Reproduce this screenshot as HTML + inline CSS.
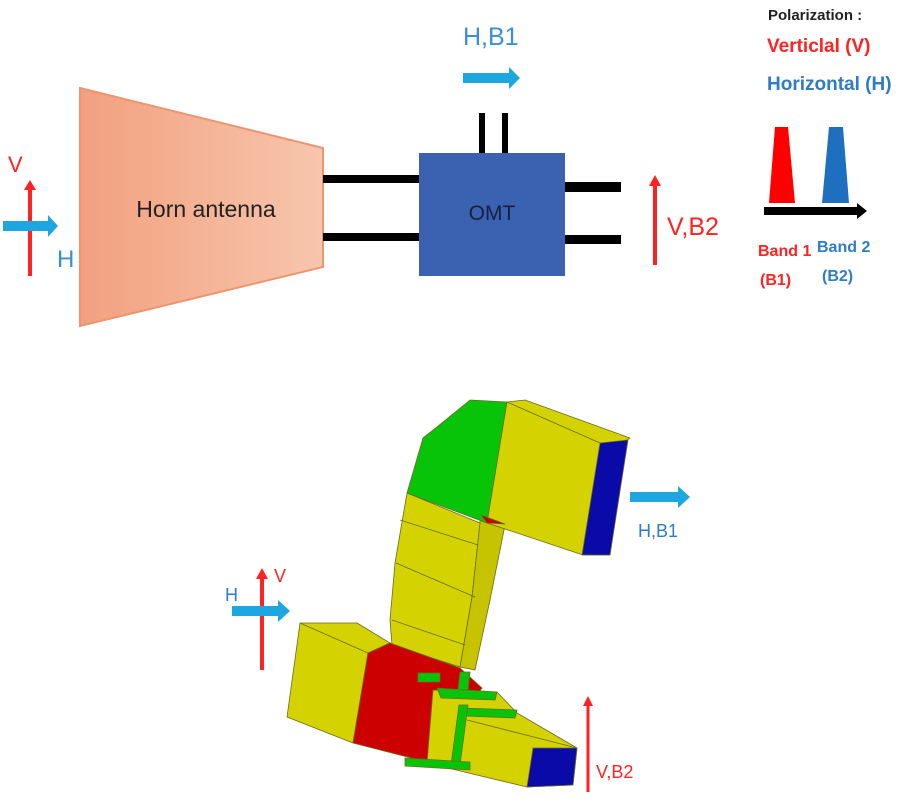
<!DOCTYPE html>
<html><head><meta charset="utf-8"><style>html,body{margin:0;padding:0;background:#fff;width:900px;height:800px;overflow:hidden}</style></head>
<body>
<svg width="900" height="800" viewBox="0 0 900 800" xmlns="http://www.w3.org/2000/svg" font-family="Liberation Sans, sans-serif">
<defs>
<linearGradient id="hg" x1="0" x2="1" y1="0" y2="0"><stop offset="0" stop-color="#f2a07f"/><stop offset="1" stop-color="#f7c6ad"/></linearGradient>
<marker id="ar" markerWidth="4" markerHeight="4" refX="2" refY="2" orient="auto" markerUnits="strokeWidth"><path d="M0,0 L4,2 L0,4 z" fill="#f00"/></marker>
</defs>
<!-- left polarization -->
<line x1="30" y1="276" x2="30" y2="188" stroke="#f22" stroke-width="4"/>
<path d="M24,190 L30,180 L36,190 z" fill="#f22"/>
<rect x="3" y="221" width="47" height="10" fill="#1ea6e0"/>
<path d="M48,215 L58,226 L48,237 z" fill="#1ea6e0"/>
<text x="8" y="172" font-size="22" fill="#f22">V</text>
<text x="57" y="267" font-size="24" fill="#3b8fd6">H</text>
<!-- horn -->
<polygon points="80,88 323,148 323,267 80,326" fill="url(#hg)" stroke="#eb9670" stroke-width="2"/>
<text x="206" y="217" font-size="23" text-anchor="middle" fill="#222">Horn antenna</text>
<rect x="323" y="175" width="97" height="8" fill="#000"/>
<rect x="323" y="233" width="97" height="8" fill="#000"/>
<!-- OMT -->
<rect x="419" y="153" width="146" height="123" fill="#3a62b0"/>
<text x="492" y="220" font-size="21" text-anchor="middle" fill="#142040">OMT</text>
<rect x="479" y="113" width="6" height="40" fill="#000"/>
<rect x="502" y="113" width="6" height="40" fill="#000"/>
<rect x="565" y="182" width="56" height="10" fill="#000"/>
<rect x="565" y="235" width="56" height="9" fill="#000"/>
<text x="463" y="45" font-size="25" fill="#3b8fd6">H,B1</text>
<rect x="463" y="73" width="48" height="10" fill="#1ea6e0"/>
<path d="M509,67 L520,78 L509,89 z" fill="#1ea6e0"/>
<line x1="655" y1="265" x2="655" y2="185" stroke="#f22" stroke-width="4"/>
<path d="M649,186 L655,175 L661,186 z" fill="#f22"/>
<text x="667" y="235" font-size="25" fill="#f22">V,B2</text>
<!-- legend -->
<text x="768" y="20" font-size="15" font-weight="bold" fill="#222">Polarization :</text>
<text x="767" y="52" font-size="19" font-weight="bold" fill="#f22">Verticlal (V)</text>
<text x="767" y="90" font-size="19" font-weight="bold" fill="#2e7cc8">Horizontal (H)</text>
<polygon points="775,127 788,127 795,203 769,203" fill="#f00"/>
<polygon points="829,127 843,127 849,203 822,203" fill="#1f6fc0"/>
<rect x="764" y="207" width="96" height="8" fill="#000"/>
<path d="M857,203 L867,211 L857,219 z" fill="#000"/>
<text x="758" y="256" font-size="16" font-weight="bold" fill="#f22">Band 1</text>
<text x="760" y="285" font-size="16" font-weight="bold" fill="#f22">(B1)</text>
<text x="817" y="252" font-size="16" font-weight="bold" fill="#2e7cc8">Band 2</text>
<text x="822" y="281" font-size="16" font-weight="bold" fill="#2e7cc8">(B2)</text>
<!-- 3D structure -->
<g stroke="#6b6a20" stroke-width="0.8" stroke-linejoin="round">
<polygon points="407,493 480,523 472,597 460,667 392,645 390,620 395,563" fill="#d4d200"/>
<polygon points="480,515 505,525 490,600 475,670 460,667 472,597 480,523" fill="#c6c300"/>
<line x1="400" y1="520" x2="478" y2="545"/><line x1="396" y1="563" x2="475" y2="597"/><line x1="392" y1="620" x2="465" y2="645"/>
<polygon points="470,400 507,402 487,523 407,493 423,438 437,427" fill="#08c408"/>
<polygon points="507,402 525,400 630,438 627,440 610,555 583,555 487,523" fill="#d4d200"/>
<line x1="507" y1="402" x2="600" y2="443"/>
<polygon points="600,443 628,440 610,555 582,555" fill="#0a0aa8"/>
<polygon points="481,515 505,524 487,523" fill="#cc0000"/>
<polygon points="300,623 357,623 390,643 368,653 353,743 287,717" fill="#d4d200"/>
<line x1="300" y1="623" x2="368" y2="653"/>
<polygon points="368,653 390,643 460,668 482,688 427,762 353,743" fill="#cc0000"/>
<polygon points="433,690 497,692 517,713 577,748 573,785 527,787 427,763" fill="#d4d200"/>
<polygon points="437,688 497,692 495,700 441,698" fill="#08c408"/>
<polygon points="462,708 517,710 515,718 464,716" fill="#08c408"/>
<polygon points="459,705 468,705 460,765 451,765" fill="#08c408"/>
<polygon points="418,673 440,673 440,682 418,682" fill="#08c408"/>
<polygon points="460,672 470,672 468,690 458,690" fill="#08c408"/>
<polygon points="405,758 470,762 470,770 405,766" fill="#08c408"/>
<line x1="467" y1="720" x2="577" y2="748"/>
<polygon points="533,748 577,748 573,785 527,787" fill="#0a0aa8"/>
</g>
<!-- 3D labels -->
<rect x="630" y="492" width="50" height="10" fill="#1ea6e0"/>
<path d="M678,486 L690,497 L678,508 z" fill="#1ea6e0"/>
<text x="638" y="537" font-size="18" fill="#2e7cc8">H,B1</text>
<line x1="262" y1="670" x2="262" y2="578" stroke="#f22" stroke-width="4"/>
<path d="M256,579 L262,568 L268,579 z" fill="#f22"/>
<rect x="232" y="606" width="48" height="10" fill="#1ea6e0"/>
<path d="M278,600 L290,611 L278,622 z" fill="#1ea6e0"/>
<text x="274" y="582" font-size="18" fill="#f22">V</text>
<text x="225" y="601" font-size="18" fill="#2e7cc8">H</text>
<line x1="588" y1="792" x2="588" y2="705" stroke="#f22" stroke-width="3"/>
<path d="M583,706 L588,696 L593,706 z" fill="#f22"/>
<text x="596" y="778" font-size="18" fill="#f22">V,B2</text>
</svg>
</body></html>
